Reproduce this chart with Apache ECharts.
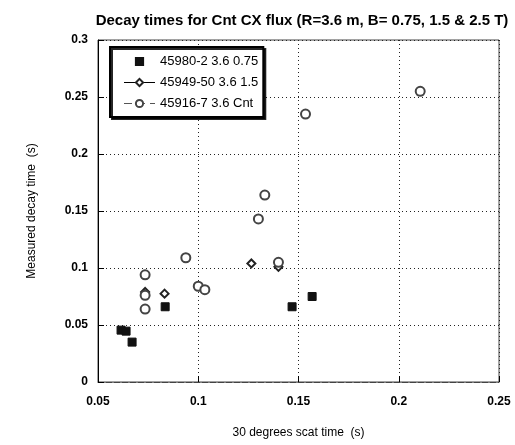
<!DOCTYPE html>
<html>
<head>
<meta charset="utf-8">
<script src="https://cdn.jsdelivr.net/npm/echarts@6/dist/echarts.min.js"></script>
<style>
  html, body { margin: 0; padding: 0; background: #fff; }
  #main { width: 515px; height: 445px; }
</style>
</head>
<body>
<div id="main"></div>
<script>
// 数据：x = 30 degrees scat time (s), y = measured decay time (s)
var seriesNames = ['45980-2 3.6 0.75', '45949-50 3.6 1.5', '45916-7 3.6 Cnt'];
var shot45980 = [[0.0615, 0.0455], [0.064, 0.0446], [0.067, 0.035], [0.0835, 0.066], [0.1468, 0.066], [0.1568, 0.075]];
var shot45949 = [[0.0735, 0.079], [0.0832, 0.0775], [0.1265, 0.104], [0.140, 0.101]];
var shot45916 = [[0.0735, 0.094], [0.0735, 0.076], [0.0735, 0.064], [0.0938, 0.109], [0.100, 0.084], [0.1033, 0.081],
                 [0.130, 0.143], [0.1332, 0.164], [0.140, 0.105], [0.1535, 0.235], [0.2107, 0.255]];
var xTicks = [0.05, 0.1, 0.15, 0.2, 0.25];
var yTicks = [0, 0.05, 0.1, 0.15, 0.2, 0.25, 0.3];

var font = "'Liberation Sans', Arial, sans-serif";
var myChart = echarts.init(document.getElementById('main'));

function pointSeries(name, data, symbol, size, color) {
    return {
        name: name,
        type: 'line',
        data: data,
        symbol: symbol,
        symbolSize: size,
        showSymbol: true,
        lineStyle: { opacity: 0 },
        itemStyle: { color: color, borderColor: color, borderWidth: 1 },
        emphasis: { disabled: true },
        z: 3
    };
}

var option = {
    animation: false,
    backgroundColor: '#fff',
    title: {
        text: 'Decay times for Cnt CX flux (R=3.6 m, B= 0.75, 1.5 & 2.5 T)',
        left: 297,
        textAlign: 'center',
        top: 8,
        textStyle: { fontFamily: font, fontSize: 15, fontWeight: 'bold', color: '#000' }
    },
    legend: {
        orient: 'vertical',
        left: 110,
        top: 47,
        padding: [8, 5, 7, 13],
        itemGap: 8,
        itemWidth: 31,
        itemHeight: 9,
        backgroundColor: '#fff',
        borderColor: '#000',
        borderWidth: 2,
        shadowColor: 'rgba(0,0,0,0.85)',
        shadowOffsetX: 2,
        shadowOffsetY: 2,
        shadowBlur: 0,
        textStyle: { fontFamily: font, fontSize: 13, color: '#000' },
        data: [
            { name: seriesNames[0], lineStyle: { opacity: 0 } },
            { name: seriesNames[1], lineStyle: { opacity: 1, color: '#000', width: 1 } },
            { name: seriesNames[2], lineStyle: { opacity: 1, color: '#555', width: 1, type: [8, 5] } }
        ]
    },
    grid: {
        left: 98,
        right: 16,
        top: 40,
        bottom: 63,
        show: true,
        borderColor: '#444',
        borderWidth: 1,
        backgroundColor: 'transparent'
    },
    xAxis: {
        type: 'value',
        min: xTicks[0],
        max: xTicks[xTicks.length - 1],
        interval: 0.05,
        name: '30 degrees scat time  (s)',
        nameLocation: 'middle',
        nameGap: 45,
        nameTextStyle: { fontFamily: font, fontSize: 12, color: '#000' },
        axisLine: { show: true, lineStyle: { color: '#444', type: [6, 2] } },
        axisTick: { show: true, inside: true, length: 6, lineStyle: { color: '#000' } },
        axisLabel: { fontFamily: font, fontSize: 12, fontWeight: 'bold', color: '#000', margin: 14 },
        splitLine: { show: true, lineStyle: { color: '#222', type: [1, 3], width: 1 } }
    },
    yAxis: {
        type: 'value',
        min: yTicks[0],
        max: yTicks[yTicks.length - 1],
        interval: 0.05,
        name: 'Measured decay time  (s)',
        nameLocation: 'middle',
        nameGap: 60,
        nameTextStyle: { fontFamily: font, fontSize: 12, color: '#000' },
        axisLine: { show: true, lineStyle: { color: '#000' } },
        axisTick: { show: true, inside: true, length: 6, lineStyle: { color: '#000' } },
        axisLabel: { fontFamily: font, fontSize: 12, fontWeight: 'bold', color: '#000', margin: 10 },
        splitLine: { show: true, lineStyle: { color: '#222', type: [1, 3], width: 1 } }
    },
    series: [
        pointSeries(seriesNames[0], shot45980, 'rect', 8, '#111'),
        pointSeries(seriesNames[1], shot45949, 'emptyDiamond', 8, '#222'),
        pointSeries(seriesNames[2], shot45916, 'emptyCircle', 9, '#444')
    ]
};
myChart.setOption(option);
</script>
</body>
</html>
